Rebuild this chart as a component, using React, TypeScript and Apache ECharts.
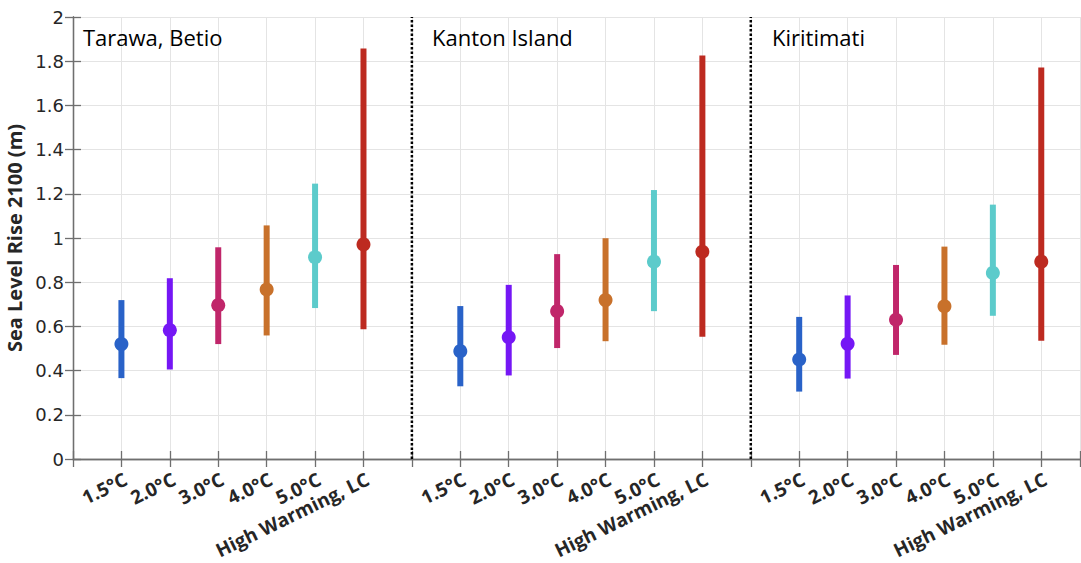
import * as echarts from 'echarts';
import { useEffect, useRef } from 'react';

// scenario labels shared by every panel
const scenarios = ['1.5°C', '2.0°C', '3.0°C', '4.0°C', '5.0°C', 'High Warming, LC'];
const sites = ['Tarawa, Betio', 'Kanton Island', 'Kiritimati'];
const scenarioColors = ['#2962c8', '#7517f5', '#c0266a', '#c8712b', '#5ccbcb', '#bd2a20'];

// median / low / high sea level rise by 2100 (m)
const tarawaMedian = [0.52, 0.583, 0.696, 0.767, 0.913, 0.971];
const tarawaLow = [0.366, 0.405, 0.52, 0.559, 0.683, 0.587];
const tarawaHigh = [0.719, 0.818, 0.958, 1.057, 1.246, 1.857];

const kantonMedian = [0.488, 0.551, 0.669, 0.719, 0.893, 0.938];
const kantonLow = [0.329, 0.378, 0.502, 0.533, 0.669, 0.553];
const kantonHigh = [0.692, 0.788, 0.927, 0.999, 1.217, 1.826];

const kiritimatiMedian = [0.45, 0.521, 0.63, 0.691, 0.842, 0.893];
const kiritimatiLow = [0.305, 0.364, 0.471, 0.517, 0.648, 0.535];
const kiritimatiHigh = [0.643, 0.74, 0.878, 0.961, 1.151, 1.772];

const yTicks = [0, 0.2, 0.4, 0.6, 0.8, 1, 1.2, 1.4, 1.6, 1.8, 2];

const siteMedians = [tarawaMedian, kantonMedian, kiritimatiMedian];
const siteLows = [tarawaLow, kantonLow, kiritimatiLow];
const siteHighs = [tarawaHigh, kantonHigh, kiritimatiHigh];

// each panel takes 7 slots on the shared x axis, the 7th one is the divider
const slot = (panel: number, i: number) => panel * 7 + i + 1;

export default function App() {
  const container = useRef<HTMLDivElement | null>(null);

  useEffect(() => {
    if (!container.current) return;
    const chart = echarts.init(container.current, undefined, { renderer: 'svg' });

    const labelAt: Record<number, string> = {};
    const points: number[][] = [];
    sites.forEach((_, p) => {
      scenarios.forEach((name, i) => {
        labelAt[slot(p, i)] = name;
        points.push([slot(p, i), siteLows[p][i], siteHighs[p][i], siteMedians[p][i], i]);
      });
    });

    const axisGray = '#6f6f6f';
    const gridGray = '#e4e4e4';
    const textDark = '#262626';

    const dividers = [7, 14].map((x) => ({
      type: 'line',
      data: [
        [x, yTicks[0]],
        [x, yTicks[yTicks.length - 1]],
      ],
      showSymbol: false,
      silent: true,
      z: 3,
      lineStyle: { color: '#000', width: 2.5, type: [2.5, 2] },
    }));

    chart.setOption({
      animation: false,
      // echarts 6 would otherwise shrink the grid to fit the long rotated labels
      grid: { left: 73, right: 1, top: 17, bottom: 104, outerBoundsMode: 'none', containLabel: false },
      xAxis: [
        {
          type: 'value',
          min: 0,
          max: 20.8,
          interval: 1,
          axisLine: { lineStyle: { color: axisGray, width: 1.3 } },
          axisTick: { inside: true, length: 8, lineStyle: { color: axisGray, width: 1.3 } },
          splitLine: { show: true, lineStyle: { color: gridGray, width: 1 } },
          axisLabel: {
            formatter: (v: number) => labelAt[v] ?? '',
            rotate: 26,
            align: 'right',
            verticalAlign: 'top',
            margin: 10,
            color: textDark,
            fontFamily: 'Open Sans',
            fontWeight: 'bold',
            fontSize: 19,
            lineHeight: 20,
          },
        },
        {
          type: 'value',
          position: 'top',
          min: 0,
          max: 20.8,
          interval: 1,
          axisLine: { show: true, lineStyle: { color: axisGray, width: 1.3 } },
          axisTick: { show: true, inside: true, length: 8, lineStyle: { color: axisGray, width: 1.3 } },
          splitLine: { show: false },
          axisLabel: { show: false },
        },
      ],
      yAxis: [
        {
          type: 'value',
          min: 0,
          max: 2,
          interval: 0.2,
          name: 'Sea Level Rise 2100 (m)',
          nameLocation: 'middle',
          nameGap: 42,
          nameTextStyle: { color: textDark, fontFamily: 'Open Sans', fontWeight: 'bold', fontSize: 20 },
          axisLine: { show: true, lineStyle: { color: axisGray, width: 1.3 } },
          axisTick: { show: true, inside: true, length: 8, lineStyle: { color: axisGray, width: 1.3 } },
          splitLine: { show: true, lineStyle: { color: gridGray, width: 1 } },
          axisLabel: { color: textDark, fontFamily: 'DejaVu Sans', fontSize: 18, margin: 9 },
        },
        {
          type: 'value',
          position: 'right',
          min: 0,
          max: 2,
          interval: 0.2,
          axisLine: { show: true, lineStyle: { color: axisGray, width: 1.3 } },
          axisTick: { show: true, inside: true, length: 8, lineStyle: { color: axisGray, width: 1.3 } },
          splitLine: { show: false },
          axisLabel: { show: false },
        },
      ],
      graphic: sites.map((name, p) => ({
        type: 'text',
        left: [83, 432, 772][p],
        top: 26,
        z: 10,
        style: { text: name, fill: '#000', fontFamily: 'Open Sans', fontSize: 22 },
      })),
      series: [
        ...dividers,
        {
          type: 'custom',
          data: points,
          encode: { x: 0, y: [1, 2, 3] },
          z: 5,
          renderItem: (_params: any, api: any) => {
            const x = api.value(0);
            const lo = api.coord([x, api.value(1)]);
            const hi = api.coord([x, api.value(2)]);
            const mid = api.coord([x, api.value(3)]);
            const color = scenarioColors[api.value(4)];
            return {
              type: 'group',
              children: [
                {
                  type: 'line',
                  shape: { x1: lo[0], y1: lo[1], x2: hi[0], y2: hi[1] },
                  style: { stroke: color, lineWidth: 6, lineCap: 'butt' },
                },
                {
                  type: 'circle',
                  shape: { cx: mid[0], cy: mid[1], r: 7 },
                  style: { fill: color },
                },
              ],
            };
          },
        },
      ],
    } as echarts.EChartsOption);

    return () => chart.dispose();
  }, []);

  return (
    <div
      ref={container}
      style={{ position: 'fixed', left: 0, top: 0, width: 1081, height: 563, background: '#fff' }}
    />
  );
}
